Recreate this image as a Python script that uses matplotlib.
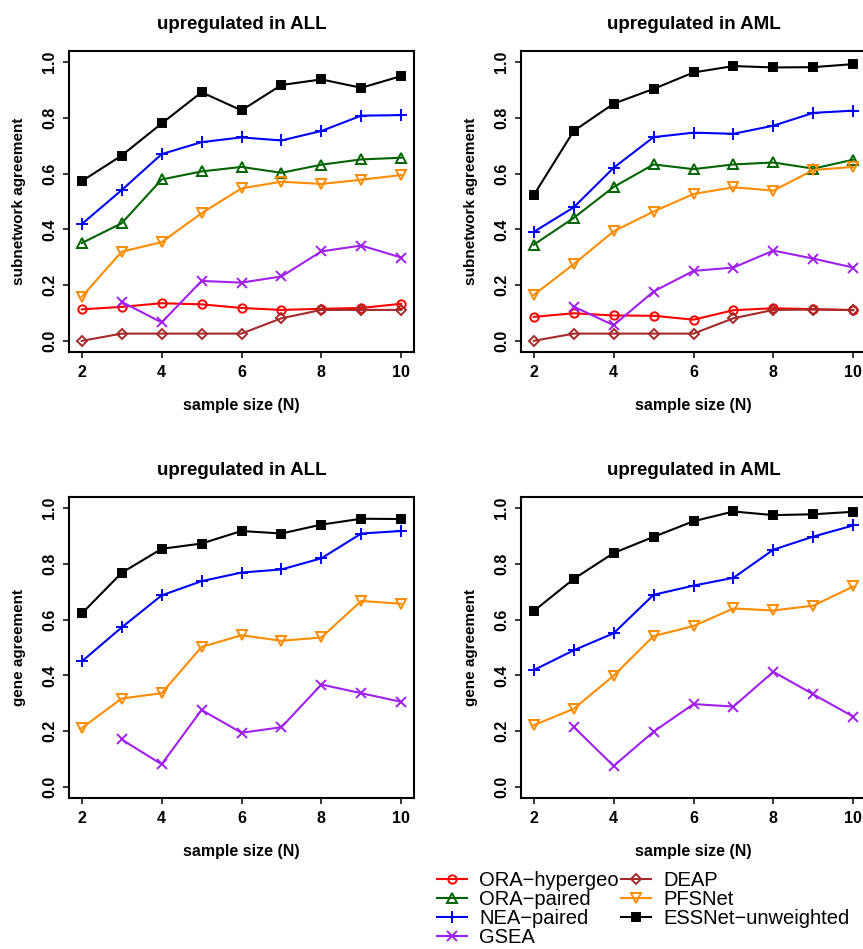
import numpy as np
import matplotlib
matplotlib.use('Agg')
import matplotlib.pyplot as plt

plt.rcParams['font.family'] = ['Liberation Sans', 'DejaVu Sans']

nan = np.nan
sample_sizes = [2, 3, 4, 5, 6, 7, 8, 9, 10]

methods = ['ORA\u2212hypergeo', 'ORA\u2212paired', 'NEA\u2212paired', 'GSEA',
           'DEAP', 'PFSNet', 'ESSNet\u2212unweighted']

# subnetwork agreement, upregulated in ALL
sub_all_ora_hyper = [0.113, 0.122, 0.135, 0.131, 0.118, 0.111, 0.115, 0.118, 0.133]
sub_all_ora_paired = [0.351, 0.422, 0.579, 0.608, 0.624, 0.603, 0.632, 0.651, 0.657]
sub_all_nea = [0.419, 0.541, 0.670, 0.713, 0.730, 0.719, 0.753, 0.808, 0.810]
sub_all_gsea = [nan, 0.140, 0.066, 0.215, 0.209, 0.231, 0.321, 0.342, 0.299]
sub_all_deap = [0.0, 0.026, 0.026, 0.026, 0.026, 0.081, 0.111, 0.111, 0.111]
sub_all_pfsnet = [0.158, 0.320, 0.354, 0.458, 0.547, 0.571, 0.563, 0.578, 0.595]
sub_all_essnet = [0.573, 0.665, 0.780, 0.892, 0.827, 0.918, 0.938, 0.908, 0.950]

# subnetwork agreement, upregulated in AML
sub_aml_ora_hyper = [0.086, 0.099, 0.091, 0.090, 0.076, 0.110, 0.117, 0.114, 0.110]
sub_aml_ora_paired = [0.345, 0.441, 0.552, 0.633, 0.616, 0.633, 0.640, 0.618, 0.650]
sub_aml_nea = [0.391, 0.479, 0.621, 0.731, 0.747, 0.743, 0.772, 0.818, 0.826]
sub_aml_gsea = [nan, 0.123, 0.056, 0.177, 0.251, 0.263, 0.324, 0.295, 0.263]
sub_aml_deap = [0.0, 0.026, 0.026, 0.026, 0.026, 0.081, 0.111, 0.112, 0.111]
sub_aml_pfsnet = [0.165, 0.275, 0.393, 0.464, 0.527, 0.551, 0.539, 0.613, 0.624]
sub_aml_essnet = [0.523, 0.753, 0.851, 0.904, 0.963, 0.986, 0.981, 0.982, 0.993]

# gene agreement, upregulated in ALL
gene_all_nea = [0.450, 0.572, 0.687, 0.738, 0.769, 0.780, 0.820, 0.909, 0.918]
gene_all_gsea = [nan, 0.170, 0.081, 0.276, 0.194, 0.214, 0.367, 0.336, 0.305]
gene_all_pfsnet = [0.211, 0.317, 0.336, 0.502, 0.544, 0.524, 0.536, 0.667, 0.657]
gene_all_essnet = [0.622, 0.768, 0.854, 0.873, 0.918, 0.909, 0.941, 0.962, 0.961]

# gene agreement, upregulated in AML
gene_aml_nea = [0.419, 0.490, 0.551, 0.689, 0.722, 0.750, 0.851, 0.898, 0.938]
gene_aml_gsea = [nan, 0.215, 0.075, 0.198, 0.297, 0.288, 0.413, 0.332, 0.252]
gene_aml_pfsnet = [0.221, 0.280, 0.399, 0.541, 0.577, 0.640, 0.633, 0.650, 0.719]
gene_aml_essnet = [0.631, 0.746, 0.839, 0.897, 0.953, 0.988, 0.975, 0.978, 0.987]

# styles per method
colors = ['red', 'darkgreen', 'blue', '#A020F0', '#A52A2A', 'darkorange', 'black']
markers = ['o', '^', '+', 'x', 'D', 'v', 's']
msizes = [6, 6.5, 9, 6.5, 5, 6.5, 5.5]
fills = ['none', 'none', 'full', 'full', 'none', 'none', 'full']

panels = [
    ('upregulated in ALL', 'subnetwork agreement',
     [sub_all_ora_hyper, sub_all_ora_paired, sub_all_nea, sub_all_gsea,
      sub_all_deap, sub_all_pfsnet, sub_all_essnet]),
    ('upregulated in AML', 'subnetwork agreement',
     [sub_aml_ora_hyper, sub_aml_ora_paired, sub_aml_nea, sub_aml_gsea,
      sub_aml_deap, sub_aml_pfsnet, sub_aml_essnet]),
    ('upregulated in ALL', 'gene agreement',
     [None, None, gene_all_nea, gene_all_gsea, None, gene_all_pfsnet, gene_all_essnet]),
    ('upregulated in AML', 'gene agreement',
     [None, None, gene_aml_nea, gene_aml_gsea, None, gene_aml_pfsnet, gene_aml_essnet]),
]

W, H = 863, 949
fig = plt.figure(figsize=(W / 100, H / 100), dpi=100)

# axes boxes in pixels: left, top (right column runs just past the image edge)
boxes = [(69, 51), (521, 51), (69, 497), (521, 497)]
aw, ah = 345, 301

for (title, ylab, series), (lx, ty) in zip(panels, boxes):
    ax = fig.add_axes([lx / W, 1 - (ty + ah) / H, aw / W, ah / H])
    for i, vals in enumerate(series):
        if vals is None:
            continue
        ax.plot(sample_sizes, vals, color=colors[i], lw=1.5,
                marker=markers[i], ms=msizes[i], mew=1.4,
                fillstyle=fills[i], label=methods[i])
    ax.set_xlim(1.68, 10.32)
    ax.set_ylim(-0.04, 1.04)
    ax.set_xticks([2, 4, 6, 8, 10])
    ax.set_yticks([0.0, 0.2, 0.4, 0.6, 0.8, 1.0])
    ax.set_yticklabels(['0.0', '0.2', '0.4', '0.6', '0.8', '1.0'],
                       rotation=90, va='center')
    ax.tick_params(length=4.5, width=1.1, labelsize=11.5, pad=4)
    ax.tick_params(axis='x', pad=5)
    for lab in ax.get_xticklabels() + ax.get_yticklabels():
        lab.set_fontweight('bold')
    for sp in ax.spines.values():
        sp.set_linewidth(1.5)
    ax.set_title(title, fontsize=13.5, fontweight='bold', pad=16)
    ax.set_xlabel('sample size (N)', fontsize=11.5, fontweight='bold', labelpad=13)
    ax.set_ylabel(ylab, fontsize=11, fontweight='bold')
    ax.yaxis.set_label_coords(-0.125, 0.5)

# legend built from the first panel lines
h, l = fig.axes[0].get_legend_handles_labels()
fig.legend(h, l, loc='upper left', bbox_to_anchor=(437 / W, 1 - 871 / H),
           ncol=2, frameon=False, fontsize=14.5, borderpad=0, borderaxespad=0,
           labelspacing=0.0, handlelength=1.5, handletextpad=0.6,
           columnspacing=0.1)

fig.savefig('out.png', dpi=100)
